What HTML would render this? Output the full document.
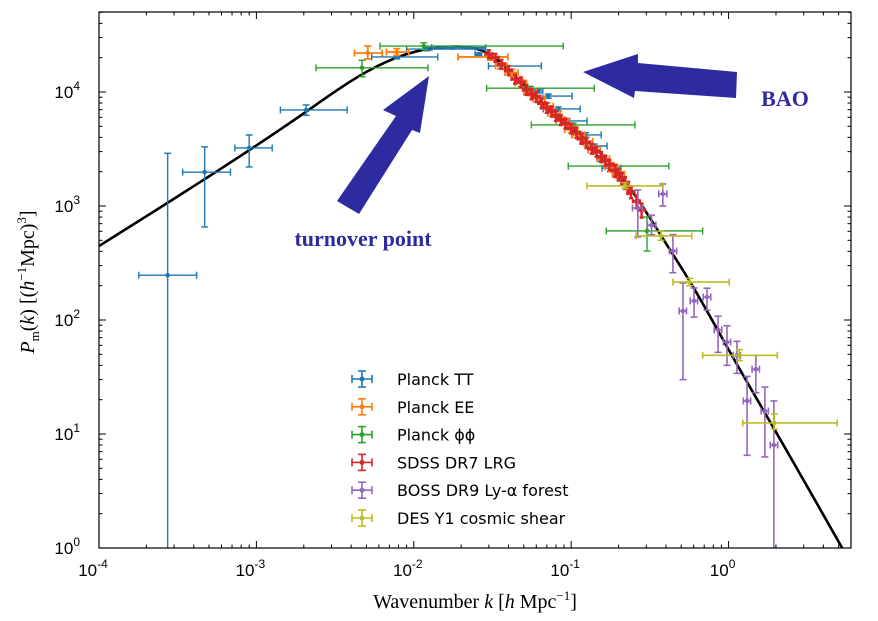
<!DOCTYPE html>
<html><head><meta charset="utf-8"><style>
html,body{margin:0;padding:0;background:#fff;}
svg{display:block;font-family:"Liberation Sans",sans-serif;}
</style></head><body>
<svg id="chart" width="878" height="621" viewBox="0 0 878 621" xmlns="http://www.w3.org/2000/svg">
<g id="marks"></g>
<g id="axes"></g>
<polygon fill="#2e2ba1" points="429,76 383,110 396,116 337,201 359,214 412,130 420,133"/>
<polygon fill="#2e2ba1" points="583,72 638,54 638,63 737,72 736,98 635,91 634,98"/>
<text x="363" y="246" text-anchor="middle" font-family="Liberation Serif,serif" font-weight="bold" font-size="22" fill="#2e2ba1">turnover point</text>
<text x="785" y="106" text-anchor="middle" font-family="Liberation Serif,serif" font-weight="bold" font-size="22" fill="#2e2ba1">BAO</text>
<text x="475" y="608" text-anchor="middle" font-family="Liberation Serif,serif" font-size="20">Wavenumber <tspan font-style="italic">k</tspan> [<tspan font-style="italic">h</tspan> Mpc<tspan dy="-8" font-size="13">−1</tspan><tspan dy="8">]</tspan></text>
<text transform="translate(34,282) rotate(-90)" text-anchor="middle" font-family="Liberation Serif,serif" font-size="20"><tspan font-style="italic">P</tspan><tspan dy="5" font-size="13">m</tspan><tspan dy="-5">(</tspan><tspan font-style="italic">k</tspan>) [(<tspan font-style="italic">h</tspan><tspan dy="-8" font-size="13">−1</tspan><tspan dy="8">Mpc)</tspan><tspan dy="-8" font-size="13">3</tspan><tspan dy="8">]</tspan></text>
<g id="legend"></g>
</svg>
<script>
// ---- data ----
const curveK=[1e-4,1e-3,2e-3,5e-3,1e-2,0.018,0.03,0.05,0.1,0.2,0.4,0.56,1,2,5.5];
const curveP=[446,3400,6500,15000,22400,25000,21500,11500,4900,1950,470,224,55,10.4,0.9];

const ttK=[2.73e-4,4.69e-4,9.0e-4,2.07e-3,7.8e-3,1.21e-2,1.74e-2,0.0258,0.0356,0.0618,0.0715,0.0828,0.0944,0.123,0.140,0.157,0.177];
const ttP=[247,1980,3230,6960,20300,23800,24500,21500,16900,10200,9220,7100,5570,4200,3360,2590,2150];
const ttKLo=[1.79e-4,3.4e-4,7.3e-4,1.42e-3,5.4e-3,9.0e-3,1.3e-2,0.0245,0.0298,0.058,0.0558,0.0665,0.0865,0.101,0.123,0.15,0.157];
const ttKHi=[4.17e-4,6.84e-4,1.26e-3,3.77e-3,1.42e-2,2.86e-2,2.86e-2,0.027,0.0646,0.066,0.1014,0.114,0.126,0.155,0.169,0.165,0.207];
const ttPLo=[0.5,655,2200,6240,19500,23000,24000,21000,16000,9800,8800,6800,5300,4000,3200,2450,2000];
const ttPHi=[2900,3300,4200,7700,21000,24600,25000,22000,17800,10600,9600,7400,5800,4400,3500,2750,2300];

const eeK=[5.1e-3,7.8e-3,0.0307,0.036,0.042,0.048,0.055,0.062,0.07,0.078,0.088,0.1,0.112,0.125,0.14,0.16,0.18,0.2];
const eeP=[22000,22400,20300,17000,14800,12000,10000,8700,7500,6500,5600,4700,4200,3700,3100,2600,2200,1900];
const eeKLo=[4.2e-3,6.7e-3,0.0191,0.033,0.038,0.044,0.05,0.057,0.064,0.071,0.08,0.091,0.102,0.114,0.128,0.146,0.164,0.183];
const eeKHi=[6.3e-3,9.3e-3,0.0396,0.039,0.046,0.052,0.06,0.068,0.077,0.085,0.096,0.11,0.122,0.137,0.153,0.175,0.197,0.218];
const eePLo=[19500,21000,19000,16000,13800,11200,9300,8100,7000,6000,5200,4400,3900,3400,2850,2400,2000,1750];
const eePHi=[25300,24000,21500,18000,15800,12800,10700,9300,8000,7000,6000,5000,4500,4000,3350,2800,2400,2050];

const ppK=[4.69e-3,0.01156,0.0551,0.103,0.179,0.303];
const ppP=[16300,25300,10800,5140,2240,604];
const ppKLo=[2.39e-3,6.1e-3,0.029,0.0558,0.0958,0.167];
const ppKHi=[0.0123,0.089,0.140,0.254,0.417,0.684];
const ppPLo=[13600,23500,10400,4950,2150,403];
const ppPHi=[19000,27000,11200,5340,2330,800];

const lrgK=[0.03,0.033,0.036,0.04,0.044,0.048,0.052,0.056,0.06,0.065,0.07,0.075,0.08,0.086,0.092,0.1,0.108,0.116,0.125,0.135,0.145,0.155,0.165,0.175,0.19,0.2,0.21,0.22,0.23,0.24,0.26,0.28];
const lrgP=[21500,20000,17500,15500,13000,12200,10500,9600,9100,8000,7300,6800,6200,5700,5300,4800,4400,3900,3600,3200,3000,2700,2500,2300,2050,1900,1750,1600,1450,1330,1100,920];
const lrgDk=[0.05,0.05,0.05,0.05,0.05,0.05,0.05,0.05,0.05,0.05,0.05,0.05,0.05,0.05,0.05,0.05,0.05,0.05,0.05,0.05,0.05,0.05,0.05,0.05,0.05,0.05,0.05,0.05,0.05,0.05,0.05,0.05];
const lrgDp=[0.08,0.08,0.09,0.09,0.09,0.1,0.1,0.1,0.1,0.1,0.1,0.1,0.1,0.1,0.1,0.1,0.1,0.1,0.1,0.1,0.1,0.1,0.1,0.1,0.12,0.12,0.12,0.12,0.12,0.12,0.13,0.14];

const lyaK=[0.265,0.324,0.382,0.443,0.513,0.603,0.729,0.857,0.977,1.13,1.31,1.49,1.70,1.94];
const lyaP=[960,680,1275,403,120,147,159,82,64,49,19.5,37,15.9,8.0];
const lyaKLo=[0.245,0.305,0.36,0.42,0.485,0.57,0.69,0.81,0.925,1.07,1.24,1.41,1.61,1.84];
const lyaKHi=[0.285,0.345,0.405,0.468,0.54,0.635,0.77,0.905,1.03,1.19,1.38,1.57,1.79,2.05];
const lyaPLo=[535,560,1000,260,30,106,122,52,40,34,6.5,23,6.3,0.5];
const lyaPHi=[1380,830,1560,560,211,191,190,108,89,65,32,49,25.8,19.5];

const desK=[0.22,0.372,0.566,1.17,1.95];
const desP=[1500,546,215,49,12.5];
const desKLo=[0.126,0.258,0.443,0.684,1.23];
const desKHi=[0.382,0.583,1.01,2.04,4.9];
const desPLo=[1420,500,200,44,11];
const desPHi=[1600,600,232,55,15];

const xTickExp=[-4,-3,-2,-1,0];
const yTickExp=[0,1,2,3,4];
const legendLabels=["Planck TT","Planck EE","Planck \u03d5\u03d5","SDSS DR7 LRG","BOSS DR9 Ly-\u03b1 forest","DES Y1 cosmic shear"];
const legendColors=["#1f77b4","#ff7f0e","#2ca02c","#d62728","#9467bd","#bcbd22"];

// ---- axes ----
const L=99,R=851,T=12,B=548;
const X0=99,DX=157.4,Y0=548,DY=114;
function xs(k){return X0+(Math.log10(k)+4)*DX;}
function ys(p){return Math.min(B,Math.max(T,Y0-Math.log10(p)*DY));}
const NS="http://www.w3.org/2000/svg";
function mk(tag,attrs,parent){const e=document.createElementNS(NS,tag);for(const a in attrs)e.setAttribute(a,attrs[a]);parent.appendChild(e);return e;}
const marks=document.getElementById('marks');
const axes=document.getElementById('axes');

// curve: natural cubic spline in log-log space
(function(){
  const X=curveK.map(k=>Math.log10(k)),Y=curveP.map(p=>Math.log10(p));
  const n=X.length,h=[],al=[0],l=[1],mu=[0],z=[0],c=new Array(n).fill(0),b=[],d=[];
  for(let i=0;i<n-1;i++)h.push(X[i+1]-X[i]);
  for(let i=1;i<n-1;i++)al.push(3/h[i]*(Y[i+1]-Y[i])-3/h[i-1]*(Y[i]-Y[i-1]));
  for(let i=1;i<n-1;i++){l[i]=2*(X[i+1]-X[i-1])-h[i-1]*mu[i-1];mu[i]=h[i]/l[i];z[i]=(al[i]-h[i-1]*z[i-1])/l[i];}
  for(let j=n-2;j>=1;j--){c[j]=z[j]-mu[j]*c[j+1];}
  for(let j=0;j<n-1;j++){b[j]=(Y[j+1]-Y[j])/h[j]-h[j]*(c[j+1]+2*c[j])/3;d[j]=(c[j+1]-c[j])/(3*h[j]);}
  let dstr="";
  for(let j=0;j<n-1;j++){
    for(let s=0;s<=20;s++){
      const t=h[j]*s/20,yy=Y[j]+b[j]*t+c[j]*t*t+d[j]*t*t*t;
      const px=X0+(X[j]+t+4)*DX,py=Y0-yy*DY;
      dstr+=(dstr?" L":"M")+px.toFixed(2)+","+py.toFixed(2);
    }
  }
  const cp=mk('clipPath',{id:'clip'},marks);
  mk('rect',{x:L,y:T,width:R-L,height:B-T},cp);
  const path=mk('path',{d:dstr,fill:'none',stroke:'#000','stroke-width':2.6,'clip-path':'url(#clip)'},marks);
  
  
})();

function series(name,color,K,P,KLo,KHi,PLo,PHi,w,cap){
  const g=mk('g',{},marks);
  
  
  for(let i=0;i<K.length;i++){
    const x=xs(K[i]),y=ys(P[i]),x1=xs(KLo[i]),x2=xs(KHi[i]),y1=ys(PHi[i]),y2=ys(PLo[i]);
    const e=mk('g',{stroke:color,'stroke-width':w,fill:color},g);
    
    
    mk('line',{x1:x1,y1:y,x2:x2,y2:y},e);
    mk('line',{x1:x,y1:y1,x2:x,y2:y2},e);
    mk('line',{x1:x1,y1:y-cap,x2:x1,y2:y+cap},e);
    mk('line',{x1:x2,y1:y-cap,x2:x2,y2:y+cap},e);
    mk('line',{x1:x-cap,y1:y1,x2:x+cap,y2:y1},e);
    if(y2<B-1)mk('line',{x1:x-cap,y1:y2,x2:x+cap,y2:y2},e);
    mk('circle',{cx:x,cy:y,r:2.3,stroke:'none'},e);
  }
}
series('planck-tt','#1f77b4',ttK,ttP,ttKLo,ttKHi,ttPLo,ttPHi,1.4,3.5);
series('planck-phiphi','#2ca02c',ppK,ppP,ppKLo,ppKHi,ppPLo,ppPHi,1.4,3.5);
series('planck-ee','#ff7f0e',eeK,eeP,eeKLo,eeKHi,eePLo,eePHi,1.8,3.5);
(function(){
  const lo=lrgK.map((k,i)=>k*(1-lrgDk[i])),hi=lrgK.map((k,i)=>k*(1+lrgDk[i]));
  const plo=lrgP.map((p,i)=>p*(1-lrgDp[i])),phi=lrgP.map((p,i)=>p*(1+lrgDp[i]));
  series('sdss-lrg','#d62728',lrgK,lrgP,lo,hi,plo,phi,2.4,2);
})();
series('boss-lya','#9467bd',lyaK,lyaP,lyaKLo,lyaKHi,lyaPLo,lyaPHi,1.6,3.5);
series('des-y1','#bcbd22',desK,desP,desKLo,desKHi,desPLo,desPHi,1.6,3.5);

// frame & ticks
const fr=mk('rect',{x:L,y:T,width:R-L,height:B-T,fill:'none',stroke:'#000','stroke-width':1.2},axes);


for(let e=-4;e<=0;e++){
  for(let m=1;m<10;m++){
    const x=xs(m*Math.pow(10,e));
    if(x>R)break;
    const len=m===1?7:3.5;
    mk('line',{x1:x,y1:B,x2:x,y2:B-len,stroke:'#000','stroke-width':1},axes);
    mk('line',{x1:x,y1:T,x2:x,y2:T+len,stroke:'#000','stroke-width':1},axes);
  }
}
for(let e=0;e<=4;e++){
  for(let m=1;m<10;m++){
    const y=Y0-Math.log10(m*Math.pow(10,e))*DY;
    if(y<T)break;
    const len=m===1?7:3.5;
    mk('line',{x1:L,y1:y,x2:L+len,y2:y,stroke:'#000','stroke-width':1},axes);
    mk('line',{x1:R,y1:y,x2:R-len,y2:y,stroke:'#000','stroke-width':1},axes);
  }
}
xTickExp.forEach(e=>{
  const t=mk('text',{x:xs(Math.pow(10,e))-6,y:576,'text-anchor':'middle','font-size':17},axes);
  
  
  t.textContent='10';
  const s=mk('tspan',{dy:-8,'font-size':12},t);s.textContent=(e<0?'-':'')+Math.abs(e);
});
yTickExp.forEach(e=>{
  const t=mk('text',{x:80,y:Y0-e*DY+6,'text-anchor':'end','font-size':17},axes);
  
  
  t.textContent='10';
  const s=mk('tspan',{dy:-8,'font-size':12},t);s.textContent=String(e);
});

// legend
const lg=document.getElementById('legend');
legendLabels.forEach((lab,i)=>{
  const y=379+i*27.8,x=362,c=legendColors[i];
  const g=mk('g',{stroke:c,'stroke-width':1.6,fill:c},lg);
  
  
  mk('line',{x1:x-10,y1:y,x2:x+10,y2:y},g);
  mk('line',{x1:x,y1:y-8,x2:x,y2:y+8},g);
  mk('line',{x1:x-10,y1:y-4,x2:x-10,y2:y+4},g);
  mk('line',{x1:x+10,y1:y-4,x2:x+10,y2:y+4},g);
  mk('line',{x1:x-4,y1:y-8,x2:x+4,y2:y-8},g);
  mk('line',{x1:x-4,y1:y+8,x2:x+4,y2:y+8},g);
  mk('circle',{cx:x,cy:y,r:2.5,stroke:'none'},g);
  const t=mk('text',{x:397,y:y+6,'font-size':16,fill:'#000',stroke:'none',"font-family":"DejaVu Sans, sans-serif"},g);
  t.textContent=lab;
});
</script>
</body></html>
